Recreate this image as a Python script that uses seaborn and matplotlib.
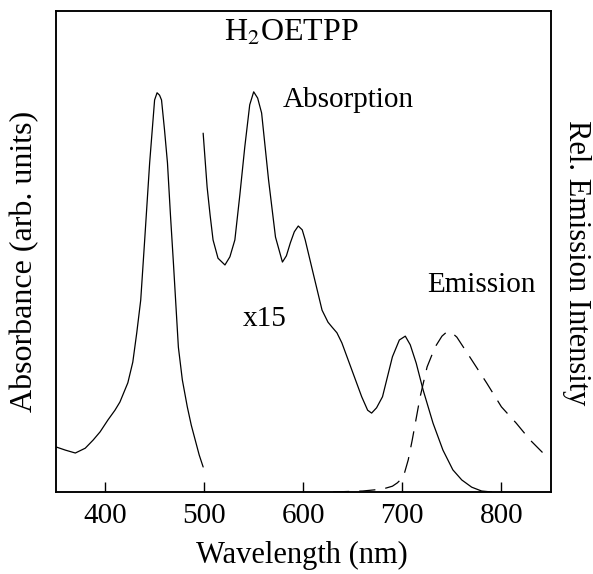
import numpy as np
import pandas as pd
import matplotlib
matplotlib.use("Agg")
import matplotlib.pyplot as plt
import seaborn as sns

# Soret band (absorption, as measured)
soret_nm = [350, 360, 370, 380, 388, 395, 403, 410, 415, 423, 428, 432, 436, 440,
            445, 450, 452.5, 455, 457, 460, 463, 466, 469, 474, 478, 483, 487, 491, 495, 499]
soret_abs = [0.094, 0.087, 0.081, 0.091, 0.108, 0.125, 0.150, 0.170, 0.187, 0.227, 0.270,
             0.331, 0.399, 0.524, 0.684, 0.815, 0.830, 0.825, 0.815, 0.753, 0.684, 0.576,
             0.476, 0.301, 0.233, 0.177, 0.139, 0.108, 0.077, 0.052]

# Q bands (absorption x15)
q_nm = [499, 503, 506, 509, 514, 521, 526, 531, 536, 541, 546, 550, 554, 558, 565, 572,
        579, 583, 587, 591, 595, 599, 602, 610, 619, 625, 629, 634, 639, 649, 659, 665,
        669, 674, 680, 690, 697, 703, 708, 714, 721, 731, 741, 751, 760, 770, 780, 790]
q_abs = [0.746, 0.634, 0.576, 0.524, 0.486, 0.472, 0.489, 0.524, 0.617, 0.717, 0.805,
         0.832, 0.819, 0.788, 0.649, 0.530, 0.478, 0.491, 0.518, 0.541, 0.553, 0.545,
         0.524, 0.455, 0.378, 0.353, 0.343, 0.331, 0.310, 0.254, 0.198, 0.170, 0.164,
         0.175, 0.198, 0.281, 0.316, 0.324, 0.306, 0.268, 0.212, 0.143, 0.087, 0.046,
         0.025, 0.010, 0.002, 0.0]

# Emission
em_nm = [630, 660, 680, 690, 695, 701, 706, 710, 718, 725, 733, 740, 745, 750, 755,
         768, 785, 800, 815, 829, 842, 846]
em_int = [0.0, 0.002, 0.006, 0.012, 0.019, 0.031, 0.067, 0.108, 0.198, 0.260, 0.301,
          0.324, 0.333, 0.331, 0.322, 0.281, 0.227, 0.177, 0.143, 0.108, 0.081, 0.071]

xticks = [400, 500, 600, 700, 800]

sns.set_style("ticks")
plt.rcParams['font.family'] = ['Liberation Serif', 'DejaVu Serif']
plt.rcParams['mathtext.fontset'] = 'stix'
plt.rcParams['text.color'] = 'black'
plt.rcParams['axes.labelcolor'] = 'black'
plt.rcParams['xtick.color'] = 'black'
plt.rcParams['ytick.color'] = 'black'

fig = plt.figure(figsize=(5.93, 5.74), dpi=100)
ax = fig.add_axes([0.0936, 0.1429, 0.8355, 0.8379])

df_s = pd.DataFrame({"nm": soret_nm, "v": soret_abs})
df_q = pd.DataFrame({"nm": q_nm, "v": q_abs})
df_e = pd.DataFrame({"nm": em_nm, "v": em_int})

sns.lineplot(data=df_s, x="nm", y="v", ax=ax, color="black", lw=0.9, sort=False)
sns.lineplot(data=df_q, x="nm", y="v", ax=ax, color="black", lw=0.9, sort=False)
ax2 = ax.twinx()
sns.lineplot(data=df_e, x="nm", y="v", ax=ax2, color="black", lw=0.9, sort=False,
             dashes=False, linestyle=(0, (13, 8)))

for a in (ax, ax2):
    a.set_xlim(350, 850)
    a.set_ylim(0, 1)
    a.set_yticks([])
    for s in a.spines.values():
        s.set_linewidth(1.1)
        s.set_color("black")

ax.set_xticks(xticks)
ax.set_xticklabels([str(t) for t in xticks])
ax.tick_params(axis='x', direction='in', length=7, width=1, labelsize=21, pad=8)
ax2.tick_params(axis='y', length=0)

# axes box: left 55.5px, width 495.5px, bottom 492px, height 481px
ax.set_xlabel("Wavelength (nm)", fontsize=22, va='center')
ax.xaxis.set_label_coords(0.497, -0.133)
ax.set_ylabel("Absorbance (arb. units)", fontsize=23, va='center')
ax.yaxis.set_label_coords(-0.062, 0.48)
ax2.set_ylabel("Rel. Emission Intensity", fontsize=22, rotation=270, va='center')
ax2.yaxis.set_label_coords(1.052, 0.477)

ax.text(588, 0.985, r"H$_2$OETPP", fontsize=23, ha='center', va='top')
ax.text(579, 0.815, "Absorption", fontsize=21, ha='left', va='center')
ax.text(539, 0.36, "x15", fontsize=21, ha='left', va='center')
ax.text(725, 0.43, "Emission", fontsize=21, ha='left', va='center')

fig.savefig("out.png", dpi=100)
